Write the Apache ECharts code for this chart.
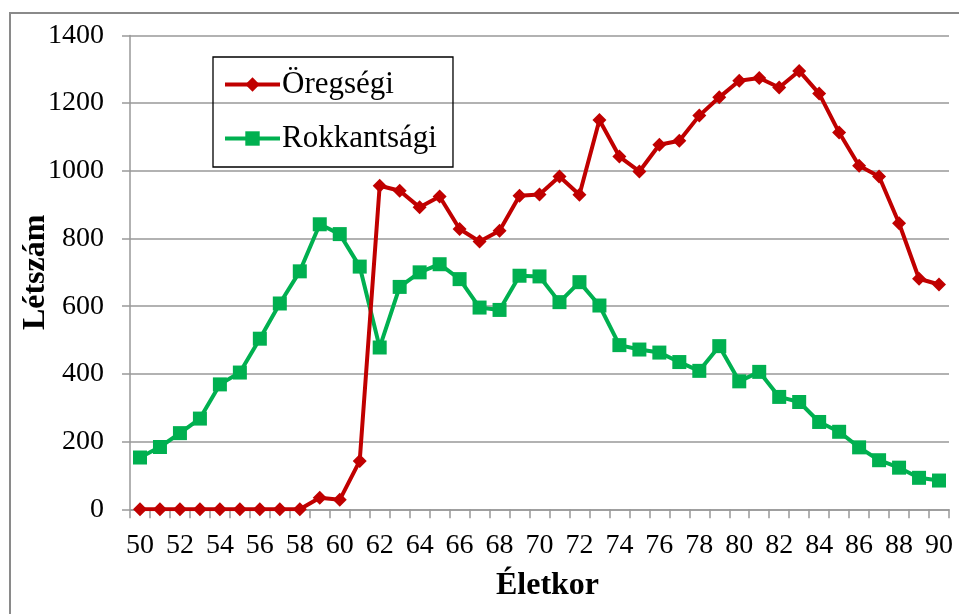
<!DOCTYPE html>
<html>
<head>
<meta charset="utf-8">
<script src="https://cdn.jsdelivr.net/npm/echarts@6/dist/echarts.min.js"></script>
<style>html,body{margin:0;padding:0;background:#fff;}#c{width:959px;height:614px;}</style>
</head>
<body>
<div id="c"></div>
<script>
const ages = [50,51,52,53,54,55,56,57,58,59,60,61,62,63,64,65,66,67,68,69,70,71,72,73,74,75,76,77,78,79,80,81,82,83,84,85,86,87,88,89,90];
const oregsegi = [0,0,0,0,0,0,0,0,0,34,28,143,956,941,892,924,828,791,823,926,930,983,929,1150,1042,998,1077,1089,1163,1217,1266,1274,1246,1295,1228,1113,1015,983,845,681,664];
const rokkantsagi = [153,184,225,268,369,404,504,608,703,842,813,717,478,657,700,724,680,596,589,690,688,612,671,602,485,472,463,435,409,482,378,406,332,317,258,229,183,145,123,93,85];
const yTicks = [0,200,400,600,800,1000,1200,1400];
const seriesNames = ['Öregségi','Rokkantsági'];

const font = 'Liberation Serif, Times New Roman, serif';
const chart = echarts.init(document.getElementById('c'), null, {renderer:'canvas'});
chart.setOption({
  animation: false,
  backgroundColor: '#fff',
  textStyle: {fontFamily: font},
  graphic: [{
    type: 'rect', shape: {x: 10, y: 13, width: 1000, height: 700},
    style: {fill: 'none', stroke: '#8a8a8a', lineWidth: 2}, silent: true, z: -1
  }],
  grid: {left: 130, right: 10, top: 35.4, bottom: 104.7, outerBoundsMode: 'none', containLabel: false},
  legend: {
    orient: 'vertical', left: 213, top: 57,
    padding: [12, 16, 13, 10], itemGap: 23,
    itemWidth: 55, itemHeight: 18,
    borderColor: '#000', borderWidth: 1.3,
    lineStyle: {width: 4},
    textStyle: {fontFamily: font, fontSize: 31, color: '#000', lineHeight: 30, padding: [0,0,0,-3]},
    data: seriesNames
  },
  xAxis: {
    type: 'category', data: ages, boundaryGap: true,
    name: 'Életkor', nameLocation: 'middle', nameGap: 60,
    nameTextStyle: {fontFamily: font, fontSize: 32, fontWeight: 'bold', color: '#000', padding: [0,0,0,16]},
    axisLine: {lineStyle: {color: '#999', width: 1.5}},
    axisTick: {show: true, interval: 0, length: 9, inside: false, lineStyle: {color: '#999', width: 1.5}},
    axisLabel: {interval: 1, fontFamily: font, fontSize: 28, color: '#000', margin: 22},
    splitLine: {show: false}
  },
  yAxis: {
    type: 'value', min: 0, max: 1400, interval: 200,
    name: 'Létszám', nameLocation: 'middle', nameGap: 78, nameRotate: 90, nameMoveOverlap: false,
    nameTextStyle: {fontFamily: font, fontSize: 32, fontWeight: 'bold', color: '#000'},
    axisLine: {show: true, lineStyle: {color: '#999', width: 1.5}},
    axisTick: {show: true, length: 8, lineStyle: {color: '#999', width: 1.5}},
    axisLabel: {fontFamily: font, fontSize: 28, color: '#000', margin: 26,
      formatter: v => yTicks.includes(v) ? String(v) : ''},
    splitLine: {show: true, lineStyle: {color: '#999', width: 1.5}}
  },
  series: [
    {
      name: seriesNames[0], type: 'line', data: oregsegi,
      symbol: 'diamond', symbolSize: 14, showSymbol: true, showAllSymbol: true,
      itemStyle: {color: '#C00000'}, lineStyle: {color: '#C00000', width: 4}, z: 3
    },
    {
      name: seriesNames[1], type: 'line', data: rokkantsagi,
      symbol: 'rect', symbolSize: 14, showSymbol: true, showAllSymbol: true,
      itemStyle: {color: '#00B050'}, lineStyle: {color: '#00B050', width: 4}, z: 2
    }
  ]
});
</script>
</body>
</html>
